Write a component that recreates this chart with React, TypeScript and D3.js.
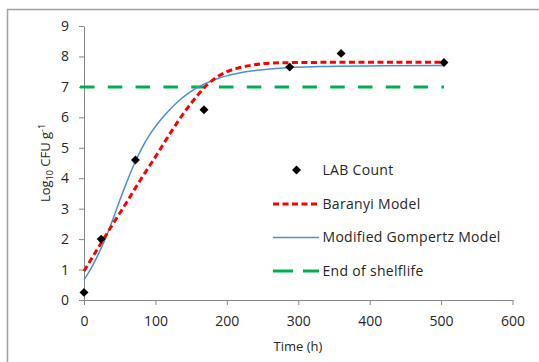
import React, { useEffect, useRef } from "react";
import * as d3 from "d3";

// observed LAB counts
const countTime = [0, 24, 72, 168, 288, 360, 504];
const countLog = [0.25, 2.0, 4.6, 6.25, 7.65, 8.1, 7.8];

// Baranyi model
const baranyiTime = [0, 20, 40, 60, 80, 100, 120, 140, 160, 170, 180, 190, 200, 214, 237, 260, 300, 400, 504];
const baranyiLog = [0.95, 1.72, 2.48, 3.22, 3.98, 4.7, 5.45, 6.15, 6.75, 7.02, 7.22, 7.38, 7.5, 7.61, 7.72, 7.78, 7.8, 7.81, 7.81];

// Modified Gompertz model
const gompertzTime = [0, 10, 20, 30, 40, 50, 60, 70, 80, 92, 106, 120, 134, 148, 160, 176, 190, 214, 237, 260, 288, 330, 400, 504];
const gompertzLog = [0.66, 1.05, 1.5, 2.02, 2.62, 3.27, 3.88, 4.45, 4.94, 5.43, 5.88, 6.25, 6.57, 6.82, 7.0, 7.17, 7.3, 7.44, 7.53, 7.59, 7.64, 7.67, 7.69, 7.7];

const shelfLife = 7;
const shelfTime = [0, 504];

const xTicks = [0, 100, 200, 300, 400, 500, 600];
const yTicks = [0, 1, 2, 3, 4, 5, 6, 7, 8, 9];

const legendLabels = ["LAB Count", "Baranyi Model", "Modified Gompertz Model", "End of shelflife"];

const W = 539;
const H = 362;
const font = "'Open Sans', 'DejaVu Sans', sans-serif";

function Chart() {
  const svgRef = useRef<SVGSVGElement>(null);

  useEffect(() => {
    const svg = d3.select(svgRef.current);
    svg.selectAll("*").remove();

    const x = d3.scaleLinear().domain([0, 600]).range([84, 512.5]);
    const y = d3.scaleLinear().domain([0, 9]).range([300, 26]);

    // outer frame
    svg.append("path")
      .attr("d", `M7.5,${H} V9.5 H${W}`)
      .attr("fill", "none")
      .attr("stroke", "#a0a0a0")
      .attr("stroke-width", 1.5);

    const axisColor = "#868686";

    const gx = svg.append("g")
      .attr("transform", "translate(0,300)")
      .call(d3.axisBottom(x).tickValues(xTicks).tickSize(5).tickPadding(11).tickSizeOuter(0));
    const gy = svg.append("g")
      .attr("transform", "translate(84,0)")
      .call(d3.axisLeft(y).tickValues(yTicks).tickSize(5).tickPadding(10).tickSizeOuter(0));

    [gx, gy].forEach(g => {
      g.select(".domain").attr("stroke", axisColor);
      g.selectAll(".tick line").attr("stroke", axisColor);
      g.selectAll(".tick text")
        .attr("fill", "#262626")
        .style("font-family", font)
        .style("font-size", "14px");
    });

    // end of shelf life
    svg.append("line")
      .attr("x1", x(shelfTime[0]) - 4)
      .attr("x2", x(shelfTime[1]))
      .attr("y1", y(shelfLife))
      .attr("y2", y(shelfLife))
      .attr("stroke", "#00b050")
      .attr("stroke-width", 3)
      .attr("stroke-dasharray", "14.5,13.3");

    const line = d3.line<[number, number]>()
      .x(d => x(d[0]))
      .y(d => y(d[1]))
      .curve(d3.curveMonotoneX);

    svg.append("path")
      .datum(gompertzTime.map((t, i) => [t, gompertzLog[i]] as [number, number]))
      .attr("d", line)
      .attr("fill", "none")
      .attr("stroke", "#4a8fd4")
      .attr("stroke-width", 1.5);

    svg.append("path")
      .datum(baranyiTime.map((t, i) => [t, baranyiLog[i]] as [number, number]))
      .attr("d", line)
      .attr("fill", "none")
      .attr("stroke", "#ff0000")
      .attr("stroke-width", 3)
      .attr("stroke-dasharray", "6,3.5");

    const diamond = d3.symbol().type(d3.symbolSquare).size(40);
    svg.append("g")
      .selectAll("path")
      .data(countTime.map((t, i) => [t, countLog[i]]))
      .join("path")
      .attr("d", diamond)
      .attr("transform", d => `translate(${x(d[0])},${y(d[1])}) rotate(45)`)
      .attr("fill", "#000");

    // axis titles
    svg.append("text")
      .attr("x", 298)
      .attr("y", 351)
      .attr("text-anchor", "middle")
      .attr("fill", "#262626")
      .style("font-family", font)
      .style("font-size", "13px")
      .text("Time (h)");

    const yt = svg.append("text")
      .attr("transform", "translate(50,163) rotate(-90)")
      .attr("text-anchor", "middle")
      .attr("fill", "#262626")
      .style("font-family", font)
      .style("font-size", "13px");
    yt.append("tspan").text("Log");
    yt.append("tspan").attr("font-size", "9px").attr("dy", 3).text("10");
    yt.append("tspan").attr("dy", -3).text(" CFU g");
    yt.append("tspan").attr("font-size", "9px").attr("dy", -5).text("-1");

    // legend
    const legY = [170, 204, 237.5, 271];
    const lx0 = 273, lx1 = 319;
    const leg = svg.append("g");
    leg.append("path")
      .attr("d", diamond)
      .attr("transform", `translate(${(lx0 + lx1) / 2 + 0.5},${legY[0]}) rotate(45)`)
      .attr("fill", "#000");
    leg.append("line").attr("x1", lx0).attr("x2", lx1).attr("y1", legY[1]).attr("y2", legY[1])
      .attr("stroke", "#ff0000").attr("stroke-width", 3).attr("stroke-dasharray", "6,3.5");
    leg.append("line").attr("x1", lx0).attr("x2", lx1).attr("y1", legY[2]).attr("y2", legY[2])
      .attr("stroke", "#4a8fd4").attr("stroke-width", 1.5);
    leg.append("line").attr("x1", lx0).attr("x2", lx1).attr("y1", legY[3]).attr("y2", legY[3])
      .attr("stroke", "#00b050").attr("stroke-width", 3).attr("stroke-dasharray", "20,10");
    leg.selectAll("text.lab")
      .data(legendLabels)
      .join("text")
      .attr("class", "lab")
      .attr("x", 322.5)
      .attr("y", (_, i) => legY[i])
      .attr("dy", "0.35em")
      .attr("fill", "#262626")
      .style("font-family", font)
      .style("font-size", "14px")
      .style("letter-spacing", "0.3px")
      .text(d => d);
  }, []);

  return <svg ref={svgRef} width={W} height={H} style={{ position: "absolute", left: 0, top: 0 }} />;
}

export default function App() {
  return <Chart />;
}
